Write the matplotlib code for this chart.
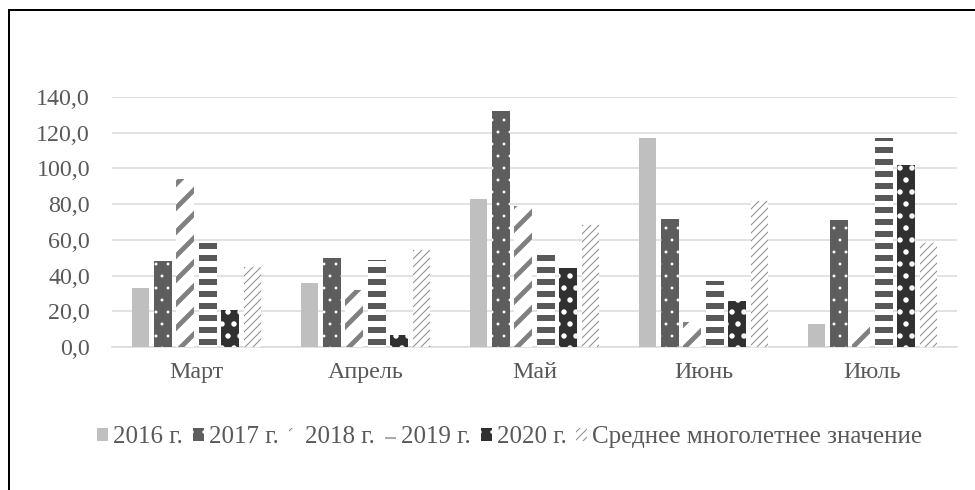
import matplotlib
matplotlib.use("Agg")
import matplotlib.pyplot as plt
import numpy as np
from matplotlib.ticker import FuncFormatter, MultipleLocator
from matplotlib.patches import Rectangle

months = ["Март", "Апрель", "Май", "Июнь", "Июль"]
series_names = ["2016 г.", "2017 г.", "2018 г.", "2019 г.", "2020 г.", "Среднее многолетнее значение"]
v2016 = [33, 36, 83, 117, 13]
v2017 = [48, 50, 132, 71.5, 71]
v2018 = [94, 32, 79, 14, 11]
v2019 = [59, 49, 55, 37, 117]
v2020 = [21, 7, 44.5, 26, 102]
vavg = [45, 54.5, 68.5, 82, 58]
series = [v2016, v2017, v2018, v2019, v2020, vavg]

# style: facecolor, hatch colour, hatch pattern, hatch linewidth
styles = [
    ("#bfbfbf", "#bfbfbf", None, 1.0),
    ("#5d5d5d", "white", ".", 0.4),
    ("white", "#808080", "/", 4.8),
    ("white", "#595959", "-", 6.0),
    ("#303030", "white", ".", 3.0),
    ("white", "#8a8a8a", "///", 1.0),
]

DPI = 72
fig = plt.figure(figsize=(975 / DPI, 490 / DPI), dpi=DPI)
plt.rcParams["font.family"] = ["Liberation Serif", "DejaVu Serif"]
ax = fig.add_axes([112 / 975, 1 - 347 / 490, 845 / 975, 250 / 490])

x = np.arange(len(months))
pitch = 0.1325
width = 0.105
for i, (vals, st) in enumerate(zip(series, styles)):
    fc, hc, hatch, hlw = st
    with plt.rc_context({"hatch.linewidth": hlw}):
        bars = ax.bar(x + (i - 2.5) * pitch, vals, width, facecolor=fc,
                      edgecolor=hc, hatch=hatch, linewidth=0,
                      label=series_names[i], zorder=3)
        for b in bars:
            if hasattr(b, "set_hatch_linewidth"):
                b.set_hatch_linewidth(hlw)

ax.set_xlim(-0.5, len(months) - 0.5)
ax.set_ylim(0, 140)
ax.yaxis.set_major_locator(MultipleLocator(20))
ax.yaxis.set_major_formatter(FuncFormatter(lambda v, p: f"{v:.1f}".replace(".", ",")))
ax.set_xticks(x)
ax.set_xticklabels(months)
ax.grid(axis="y", color="#d9d9d9", linewidth=1.5, zorder=0)
for s in ["top", "right", "left"]:
    ax.spines[s].set_visible(False)
ax.spines["bottom"].set_color("#d9d9d9")
ax.spines["bottom"].set_linewidth(1.5)
ax.tick_params(axis="both", length=0, labelsize=24, colors="#595959")
ax.tick_params(axis="y", pad=22)
ax.tick_params(axis="x", pad=15)

leg = fig.legend(loc="center", bbox_to_anchor=(0.523, 0.108), ncol=6, frameon=False,
                 fontsize=25, handlelength=0.44, handleheight=0.44,
                 handletextpad=0.2, columnspacing=0.4, labelcolor="#595959")

# outer frame (cut at right and bottom)
fig.patches.append(Rectangle((9 / 975, -0.1), 1.2, (490 - 10) / 490 + 0.1,
                             transform=fig.transFigure, fill=False,
                             edgecolor="black", linewidth=2, clip_on=False))

fig.savefig("out.png", dpi=DPI)
